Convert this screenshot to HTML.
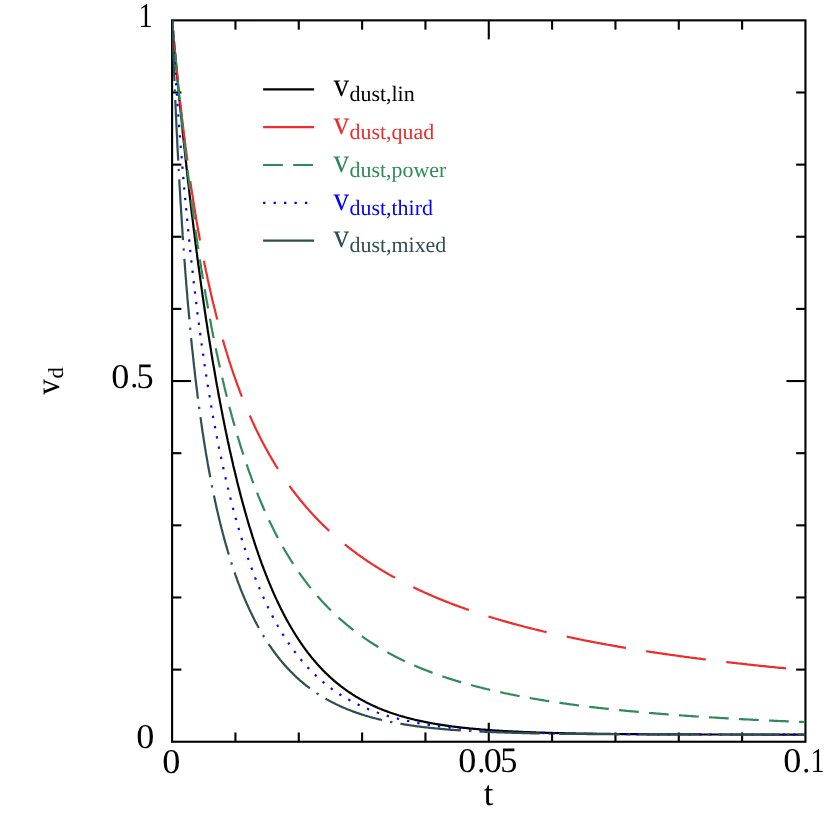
<!DOCTYPE html>
<html><head><meta charset="utf-8"><title>v_d vs t</title>
<style>
html,body{margin:0;padding:0;background:#fff;}
body{width:830px;height:830px;overflow:hidden;font-family:"Liberation Serif",serif;}
svg{display:block;will-change:transform;opacity:0.999;}
text{text-rendering:geometricPrecision;}
</style></head><body>
<svg width="830" height="830" viewBox="0 0 830 830">
<rect x="0" y="0" width="830" height="830" fill="#ffffff"/>
<g stroke="#000" stroke-width="2.10" fill="none" stroke-linecap="butt">
<rect x="172.10" y="20.35" width="633.35" height="721.40"/>
<line x1="235.44" y1="741.75" x2="235.44" y2="732.45"/>
<line x1="235.44" y1="20.35" x2="235.44" y2="29.65"/>
<line x1="298.77" y1="741.75" x2="298.77" y2="732.45"/>
<line x1="298.77" y1="20.35" x2="298.77" y2="29.65"/>
<line x1="362.11" y1="741.75" x2="362.11" y2="732.45"/>
<line x1="362.11" y1="20.35" x2="362.11" y2="29.65"/>
<line x1="425.44" y1="741.75" x2="425.44" y2="732.45"/>
<line x1="425.44" y1="20.35" x2="425.44" y2="29.65"/>
<line x1="488.77" y1="741.75" x2="488.77" y2="722.75"/>
<line x1="488.77" y1="20.35" x2="488.77" y2="39.35"/>
<line x1="552.11" y1="741.75" x2="552.11" y2="732.45"/>
<line x1="552.11" y1="20.35" x2="552.11" y2="29.65"/>
<line x1="615.45" y1="741.75" x2="615.45" y2="732.45"/>
<line x1="615.45" y1="20.35" x2="615.45" y2="29.65"/>
<line x1="678.78" y1="741.75" x2="678.78" y2="732.45"/>
<line x1="678.78" y1="20.35" x2="678.78" y2="29.65"/>
<line x1="742.12" y1="741.75" x2="742.12" y2="732.45"/>
<line x1="742.12" y1="20.35" x2="742.12" y2="29.65"/>
<line x1="172.10" y1="669.61" x2="181.40" y2="669.61"/>
<line x1="805.45" y1="669.61" x2="796.15" y2="669.61"/>
<line x1="172.10" y1="597.47" x2="181.40" y2="597.47"/>
<line x1="805.45" y1="597.47" x2="796.15" y2="597.47"/>
<line x1="172.10" y1="525.33" x2="181.40" y2="525.33"/>
<line x1="805.45" y1="525.33" x2="796.15" y2="525.33"/>
<line x1="172.10" y1="453.19" x2="181.40" y2="453.19"/>
<line x1="805.45" y1="453.19" x2="796.15" y2="453.19"/>
<line x1="172.10" y1="381.05" x2="191.10" y2="381.05"/>
<line x1="805.45" y1="381.05" x2="786.45" y2="381.05"/>
<line x1="172.10" y1="308.91" x2="181.40" y2="308.91"/>
<line x1="805.45" y1="308.91" x2="796.15" y2="308.91"/>
<line x1="172.10" y1="236.77" x2="181.40" y2="236.77"/>
<line x1="805.45" y1="236.77" x2="796.15" y2="236.77"/>
<line x1="172.10" y1="164.63" x2="181.40" y2="164.63"/>
<line x1="805.45" y1="164.63" x2="796.15" y2="164.63"/>
<line x1="172.10" y1="92.49" x2="181.40" y2="92.49"/>
<line x1="805.45" y1="92.49" x2="796.15" y2="92.49"/>
</g>
<clipPath id="vp"><rect x="172.10" y="20.35" width="633.35" height="721.40"/></clipPath>
<g fill="none" stroke-width="2.20" stroke-linejoin="round" clip-path="url(#vp)">
<polyline stroke="#000000" points="172.1,20.4 172.1,20.5 172.1,20.8 172.2,21.1 172.2,21.6 172.3,22.1 172.3,22.7 172.4,23.4 172.4,24.1 172.5,24.9 172.6,25.7 172.7,26.6 172.7,27.5 172.8,28.5 172.9,29.5 173.0,30.6 173.1,31.7 173.2,32.8 173.3,34.0 173.4,35.2 173.5,36.5 173.7,37.8 173.8,39.1 173.9,40.5 174.0,41.9 174.1,43.3 174.3,44.8 174.4,46.3 174.6,47.8 174.7,49.3 174.8,50.9 175.0,52.5 175.1,54.2 175.3,55.8 175.5,57.5 175.6,59.2 175.8,61.0 175.9,62.7 176.1,64.5 176.3,66.3 176.4,68.2 176.6,70.0 176.8,71.9 177.0,73.8 177.2,75.7 177.3,77.7 177.5,79.7 177.7,81.6 177.9,83.6 178.1,85.7 178.3,87.7 178.5,89.8 178.7,91.8 178.9,93.9 179.1,96.1 179.3,98.2 179.5,100.3 179.8,102.5 180.0,104.7 180.2,106.9 180.4,109.1 180.6,111.3 180.9,113.5 181.1,115.8 181.3,118.0 181.6,120.3 181.8,122.6 182.0,124.9 182.3,127.2 182.5,129.5 182.7,131.8 183.0,134.2 183.2,136.5 183.5,138.9 183.7,141.3 184.0,143.7 184.2,146.0 184.5,148.5 184.8,150.9 185.0,153.3 185.3,155.7 185.5,158.2 185.8,160.6 186.1,163.0 186.3,165.5 186.6,168.0 186.9,170.4 187.2,172.9 187.4,175.4 187.7,177.9 188.0,180.4 188.3,182.9 188.6,185.4 188.9,187.9 189.2,190.4 189.4,193.0 189.7,195.5 190.0,198.0 190.3,200.5 190.6,203.1 190.9,205.6 191.2,208.2 191.5,210.7 191.8,213.3 192.1,215.8 192.5,218.4 192.8,220.9 193.1,223.5 193.4,226.0 193.7,228.6 194.0,231.2 194.4,233.7 194.7,236.3 195.0,238.8 195.3,241.4 195.6,244.0 196.0,246.5 196.3,249.1 196.6,251.7 197.0,254.2 197.3,256.8 197.6,259.3 198.0,261.9 198.3,264.5 198.7,267.0 199.0,269.6 199.4,272.1 199.7,274.7 200.1,277.2 200.4,279.8 200.8,282.3 201.1,284.9 201.5,287.4 201.8,289.9 202.2,292.5 202.5,295.0 202.9,297.5 203.3,300.1 203.6,302.6 204.0,305.1 204.4,307.6 204.7,310.1 205.1,312.6 205.5,315.1 205.8,317.6 206.2,320.1 206.6,322.6 207.0,325.1 207.4,327.5 207.7,330.0 208.1,332.5 208.5,334.9 208.9,337.4 209.3,339.9 209.7,342.3 210.1,344.7 210.5,347.2 210.9,349.6 211.2,352.0 211.6,354.4 212.0,356.8 212.4,359.2 212.8,361.6 213.2,364.0 213.7,366.4 214.1,368.8 214.5,371.2 214.9,373.5 215.3,375.9 215.7,378.2 216.1,380.6 216.5,382.9 216.9,385.2 217.4,387.6 217.8,389.9 218.2,392.2 218.6,394.5 219.0,396.8 219.5,399.0 219.9,401.3 220.3,403.6 220.8,405.9 221.2,408.1 221.6,410.3 222.1,412.6 222.5,414.8 222.9,417.0 223.4,419.2 223.8,421.4 224.2,423.6 224.7,425.8 225.1,428.0 225.6,430.2 226.0,432.3 226.5,434.5 226.9,436.6 227.4,438.7 227.8,440.9 228.3,443.0 228.7,445.1 229.2,447.2 229.6,449.3 230.1,451.4 230.6,453.4 231.0,455.5 231.5,457.5 231.9,459.6 232.4,461.6 232.9,463.6 233.3,465.7 233.8,467.7 234.3,469.7 234.8,471.6 235.2,473.6 235.7,475.6 236.2,477.6 236.7,479.5 237.1,481.4 237.6,483.4 238.1,485.3 238.6,487.2 239.1,489.1 239.6,491.0 240.0,492.9 240.5,494.8 241.0,496.6 241.5,498.5 242.0,500.3 242.5,502.2 243.0,504.0 243.5,505.8 244.0,507.6 244.5,509.4 245.0,511.2 245.5,513.0 246.0,514.7 246.5,516.5 247.0,518.3 247.5,520.0 248.0,521.7 248.5,523.4 249.0,525.2 249.5,526.9 250.1,528.6 250.6,530.2 251.1,531.9 251.6,533.6 252.1,535.2 252.6,536.9 253.2,538.5 253.7,540.1 254.2,541.7 254.7,543.3 255.2,544.9 255.8,546.5 256.3,548.1 256.8,549.7 257.4,551.2 257.9,552.8 258.4,554.3 259.0,555.8 259.5,557.4 260.0,558.9 260.6,560.4 261.1,561.9 261.6,563.3 262.2,564.8 262.7,566.3 263.3,567.7 263.8,569.2 264.4,570.6 264.9,572.0 265.5,573.4 266.0,574.9 266.6,576.2 267.1,577.6 267.7,579.0 268.2,580.4 268.8,581.7 269.3,583.1 269.9,584.4 270.5,585.8 271.0,587.1 271.6,588.4 272.1,589.7 272.7,591.0 273.3,592.3 273.8,593.6 274.4,594.9 275.0,596.1 275.5,597.4 276.1,598.6 276.7,599.9 277.3,601.1 277.8,602.3 278.4,603.5 279.0,604.7 279.6,605.9 280.1,607.1 280.7,608.3 281.3,609.4 281.9,610.6 282.5,611.7 283.1,612.9 283.6,614.0 284.2,615.1 284.8,616.3 285.4,617.4 286.0,618.5 286.6,619.6 287.2,620.6 287.8,621.7 288.4,622.8 289.0,623.8 289.6,624.9 290.2,625.9 290.8,627.0 291.4,628.0 292.0,629.0 292.6,630.0 293.2,631.0 293.8,632.0 294.4,633.0 295.0,634.0 295.6,635.0 296.2,635.9 296.8,636.9 297.5,637.8 298.1,638.8 298.7,639.7 299.3,640.7 299.9,641.6 300.5,642.5 301.2,643.4 301.8,644.3 302.4,645.2 303.0,646.1 303.6,646.9 304.3,647.8 304.9,648.7 305.5,649.5 306.1,650.4 306.8,651.2 307.4,652.1 308.0,652.9 308.7,653.7 309.3,654.5 309.9,655.3 310.6,656.1 311.2,656.9 311.9,657.7 312.5,658.5 313.1,659.3 313.8,660.0 314.4,660.8 315.1,661.5 315.7,662.3 316.4,663.0 317.0,663.8 317.6,664.5 318.3,665.2 318.9,665.9 319.6,666.6 320.3,667.3 320.9,668.0 321.6,668.7 322.2,669.4 322.9,670.1 323.5,670.8 324.2,671.4 324.8,672.1 325.5,672.8 326.2,673.4 326.8,674.0 327.5,674.7 328.2,675.3 328.8,675.9 329.5,676.6 330.2,677.2 330.8,677.8 331.5,678.4 332.2,679.0 332.9,679.6 333.5,680.2 334.2,680.8 334.9,681.3 335.6,681.9 336.2,682.5 336.9,683.0 337.6,683.6 338.3,684.1 339.0,684.7 339.6,685.2 340.3,685.8 341.0,686.3 341.7,686.8 342.4,687.3 343.1,687.9 343.8,688.4 344.5,688.9 345.1,689.4 345.8,689.9 346.5,690.4 347.2,690.9 347.9,691.3 348.6,691.8 349.3,692.3 350.0,692.8 350.7,693.2 351.4,693.7 352.1,694.1 352.8,694.6 353.5,695.0 354.2,695.5 354.9,695.9 355.6,696.4 356.3,696.8 357.1,697.2 357.8,697.6 358.5,698.0 359.2,698.5 359.9,698.9 360.6,699.3 361.3,699.7 362.1,700.1 362.8,700.5 363.5,700.8 364.2,701.2 364.9,701.6 365.6,702.0 366.4,702.4 367.1,702.7 367.8,703.1 368.5,703.5 369.3,703.8 370.0,704.2 370.7,704.5 371.5,704.9 372.2,705.2 372.9,705.6 373.6,705.9 374.4,706.2 375.1,706.6 375.9,706.9 376.6,707.2 377.3,707.5 378.1,707.9 378.8,708.2 379.5,708.5 380.3,708.8 381.0,709.1 381.8,709.4 382.5,709.7 383.3,710.0 384.0,710.3 384.8,710.6 385.5,710.8 386.3,711.1 387.0,711.4 387.8,711.7 388.5,712.0 389.3,712.2 390.0,712.5 390.8,712.8 391.5,713.0 392.3,713.3 393.0,713.5 393.8,713.8 394.6,714.0 395.3,714.3 396.1,714.5 396.8,714.8 397.6,715.0 398.4,715.3 399.1,715.5 399.9,715.7 400.7,716.0 401.4,716.2 402.2,716.4 403.0,716.6 403.8,716.8 404.5,717.1 405.3,717.3 406.1,717.5 406.9,717.7 407.6,717.9 408.4,718.1 409.2,718.3 410.0,718.5 410.7,718.7 411.5,718.9 412.3,719.1 413.1,719.3 413.9,719.5 414.7,719.7 415.4,719.9 416.2,720.1 417.0,720.2 417.8,720.4 418.6,720.6 419.4,720.8 420.2,720.9 421.0,721.1 421.8,721.3 422.6,721.4 423.4,721.6 424.2,721.8 425.0,721.9 425.8,722.1 426.6,722.3 427.4,722.4 428.2,722.6 429.0,722.7 429.8,722.9 430.6,723.0 431.4,723.2 432.2,723.3 433.0,723.5 433.8,723.6 434.6,723.7 435.4,723.9 436.2,724.0 437.0,724.2 437.8,724.3 438.7,724.4 439.5,724.6 440.3,724.7 441.1,724.8 441.9,724.9 442.7,725.1 443.6,725.2 444.4,725.3 445.2,725.4 446.0,725.6 446.8,725.7 447.7,725.8 448.5,725.9 449.3,726.0 450.1,726.1 451.0,726.2 451.8,726.4 452.6,726.5 453.5,726.6 454.3,726.7 455.1,726.8 456.0,726.9 456.8,727.0 457.6,727.1 458.5,727.2 459.3,727.3 460.1,727.4 461.0,727.5 461.8,727.6 462.6,727.7 463.5,727.8 464.3,727.8 465.2,727.9 466.0,728.0 466.9,728.1 467.7,728.2 468.6,728.3 469.4,728.4 470.2,728.5 471.1,728.5 471.9,728.6 472.8,728.7 473.7,728.8 474.5,728.9 475.4,728.9 476.2,729.0 477.1,729.1 477.9,729.2 478.8,729.2 479.6,729.3 480.5,729.4 481.4,729.5 482.2,729.5 483.1,729.6 483.9,729.7 484.8,729.7 485.7,729.8 486.5,729.9 487.4,729.9 488.3,730.0 489.1,730.1 490.0,730.1 490.9,730.2 491.8,730.2 492.6,730.3 493.5,730.4 494.4,730.4 495.2,730.5 496.1,730.5 497.0,730.6 497.9,730.6 498.8,730.7 499.6,730.8 500.5,730.8 501.4,730.9 502.3,730.9 503.2,731.0 504.0,731.0 504.9,731.1 505.8,731.1 506.7,731.2 507.6,731.2 508.5,731.3 509.4,731.3 510.2,731.4 511.1,731.4 512.0,731.4 512.9,731.5 513.8,731.5 514.7,731.6 515.6,731.6 516.5,731.7 517.4,731.7 518.3,731.7 519.2,731.8 520.1,731.8 521.0,731.9 521.9,731.9 522.8,731.9 523.7,732.0 524.6,732.0 525.5,732.1 526.4,732.1 527.3,732.1 528.2,732.2 529.1,732.2 530.0,732.2 530.9,732.3 531.9,732.3 532.8,732.3 533.7,732.4 534.6,732.4 535.5,732.4 536.4,732.5 537.3,732.5 538.2,732.5 539.2,732.6 540.1,732.6 541.0,732.6 541.9,732.6 542.8,732.7 543.8,732.7 544.7,732.7 545.6,732.8 546.5,732.8 547.5,732.8 548.4,732.8 549.3,732.9 550.2,732.9 551.2,732.9 552.1,732.9 553.0,733.0 554.0,733.0 554.9,733.0 555.8,733.0 556.8,733.1 557.7,733.1 558.6,733.1 559.6,733.1 560.5,733.1 561.4,733.2 562.4,733.2 563.3,733.2 564.3,733.2 565.2,733.3 566.1,733.3 567.1,733.3 568.0,733.3 569.0,733.3 569.9,733.4 570.9,733.4 571.8,733.4 572.8,733.4 573.7,733.4 574.7,733.4 575.6,733.5 576.6,733.5 577.5,733.5 578.5,733.5 579.4,733.5 580.4,733.5 581.3,733.6 582.3,733.6 583.2,733.6 584.2,733.6 585.2,733.6 586.1,733.6 587.1,733.7 588.0,733.7 589.0,733.7 590.0,733.7 590.9,733.7 591.9,733.7 592.9,733.7 593.8,733.8 594.8,733.8 595.8,733.8 596.7,733.8 597.7,733.8 598.7,733.8 599.6,733.8 600.6,733.8 601.6,733.8 602.6,733.9 603.5,733.9 604.5,733.9 605.5,733.9 606.5,733.9 607.4,733.9 608.4,733.9 609.4,733.9 610.4,733.9 611.4,734.0 612.3,734.0 613.3,734.0 614.3,734.0 615.3,734.0 616.3,734.0 617.3,734.0 618.2,734.0 619.2,734.0 620.2,734.0 621.2,734.1 622.2,734.1 623.2,734.1 624.2,734.1 625.2,734.1 626.2,734.1 627.2,734.1 628.2,734.1 629.2,734.1 630.2,734.1 631.2,734.1 632.1,734.1 633.1,734.1 634.1,734.2 635.1,734.2 636.2,734.2 637.2,734.2 638.2,734.2 639.2,734.2 640.2,734.2 641.2,734.2 642.2,734.2 643.2,734.2 644.2,734.2 645.2,734.2 646.2,734.2 647.2,734.2 648.2,734.2 649.2,734.3 650.3,734.3 651.3,734.3 652.3,734.3 653.3,734.3 654.3,734.3 655.3,734.3 656.4,734.3 657.4,734.3 658.4,734.3 659.4,734.3 660.4,734.3 661.5,734.3 662.5,734.3 663.5,734.3 664.5,734.3 665.5,734.3 666.6,734.3 667.6,734.3 668.6,734.3 669.7,734.4 670.7,734.4 671.7,734.4 672.7,734.4 673.8,734.4 674.8,734.4 675.8,734.4 676.9,734.4 677.9,734.4 678.9,734.4 680.0,734.4 681.0,734.4 682.1,734.4 683.1,734.4 684.1,734.4 685.2,734.4 686.2,734.4 687.3,734.4 688.3,734.4 689.3,734.4 690.4,734.4 691.4,734.4 692.5,734.4 693.5,734.4 694.6,734.4 695.6,734.4 696.7,734.4 697.7,734.4 698.8,734.4 699.8,734.4 700.9,734.5 701.9,734.5 703.0,734.5 704.0,734.5 705.1,734.5 706.1,734.5 707.2,734.5 708.3,734.5 709.3,734.5 710.4,734.5 711.4,734.5 712.5,734.5 713.6,734.5 714.6,734.5 715.7,734.5 716.7,734.5 717.8,734.5 718.9,734.5 719.9,734.5 721.0,734.5 722.1,734.5 723.1,734.5 724.2,734.5 725.3,734.5 726.3,734.5 727.4,734.5 728.5,734.5 729.6,734.5 730.6,734.5 731.7,734.5 732.8,734.5 733.9,734.5 734.9,734.5 736.0,734.5 737.1,734.5 738.2,734.5 739.3,734.5 740.3,734.5 741.4,734.5 742.5,734.5 743.6,734.5 744.7,734.5 745.8,734.5 746.8,734.5 747.9,734.5 749.0,734.5 750.1,734.5 751.2,734.5 752.3,734.5 753.4,734.5 754.5,734.5 755.5,734.5 756.6,734.5 757.7,734.5 758.8,734.5 759.9,734.5 761.0,734.5 762.1,734.5 763.2,734.5 764.3,734.6 765.4,734.6 766.5,734.6 767.6,734.6 768.7,734.6 769.8,734.6 770.9,734.6 772.0,734.6 773.1,734.6 774.2,734.6 775.3,734.6 776.4,734.6 777.5,734.6 778.6,734.6 779.8,734.6 780.9,734.6 782.0,734.6 783.1,734.6 784.2,734.6 785.3,734.6 786.4,734.6 787.5,734.6 788.6,734.6 789.8,734.6 790.9,734.6 792.0,734.6 793.1,734.6 794.2,734.6 795.3,734.6 796.5,734.6 797.6,734.6 798.7,734.6 799.8,734.6 801.0,734.6 802.1,734.6 803.2,734.6 804.3,734.6 805.5,734.6"/>
<polyline stroke="#ee2c2c" stroke-dasharray="60.25 20.65" points="172.1,20.4 172.1,20.5 172.1,20.8 172.2,21.1 172.2,21.6 172.3,22.1 172.3,22.7 172.4,23.4 172.4,24.1 172.5,24.9 172.6,25.7 172.7,26.6 172.7,27.5 172.8,28.5 172.9,29.5 173.0,30.5 173.1,31.6 173.2,32.7 173.3,33.9 173.4,35.1 173.5,36.3 173.7,37.6 173.8,38.9 173.9,40.2 174.0,41.6 174.1,43.0 174.3,44.4 174.4,45.8 174.6,47.3 174.7,48.8 174.8,50.3 175.0,51.8 175.1,53.4 175.3,55.0 175.5,56.6 175.6,58.2 175.8,59.9 175.9,61.5 176.1,63.2 176.3,64.9 176.4,66.6 176.6,68.4 176.8,70.1 177.0,71.9 177.2,73.7 177.3,75.5 177.5,77.3 177.7,79.2 177.9,81.0 178.1,82.9 178.3,84.7 178.5,86.6 178.7,88.5 178.9,90.4 179.1,92.3 179.3,94.2 179.5,96.2 179.8,98.1 180.0,100.1 180.2,102.0 180.4,104.0 180.6,106.0 180.9,107.9 181.1,109.9 181.3,111.9 181.6,113.9 181.8,115.9 182.0,117.9 182.3,119.9 182.5,122.0 182.7,124.0 183.0,126.0 183.2,128.0 183.5,130.1 183.7,132.1 184.0,134.1 184.2,136.2 184.5,138.2 184.8,140.3 185.0,142.3 185.3,144.4 185.5,146.4 185.8,148.5 186.1,150.5 186.3,152.6 186.6,154.6 186.9,156.7 187.2,158.7 187.4,160.8 187.7,162.8 188.0,164.9 188.3,166.9 188.6,169.0 188.9,171.0 189.2,173.1 189.4,175.1 189.7,177.2 190.0,179.2 190.3,181.2 190.6,183.3 190.9,185.3 191.2,187.3 191.5,189.4 191.8,191.4 192.1,193.4 192.5,195.4 192.8,197.4 193.1,199.4 193.4,201.4 193.7,203.4 194.0,205.4 194.4,207.4 194.7,209.4 195.0,211.4 195.3,213.4 195.6,215.3 196.0,217.3 196.3,219.3 196.6,221.2 197.0,223.2 197.3,225.2 197.6,227.1 198.0,229.0 198.3,231.0 198.7,232.9 199.0,234.8 199.4,236.7 199.7,238.7 200.1,240.6 200.4,242.5 200.8,244.4 201.1,246.2 201.5,248.1 201.8,250.0 202.2,251.9 202.5,253.7 202.9,255.6 203.3,257.5 203.6,259.3 204.0,261.1 204.4,263.0 204.7,264.8 205.1,266.6 205.5,268.4 205.8,270.2 206.2,272.1 206.6,273.8 207.0,275.6 207.4,277.4 207.7,279.2 208.1,281.0 208.5,282.7 208.9,284.5 209.3,286.2 209.7,288.0 210.1,289.7 210.5,291.4 210.9,293.2 211.2,294.9 211.6,296.6 212.0,298.3 212.4,300.0 212.8,301.7 213.2,303.3 213.7,305.0 214.1,306.7 214.5,308.3 214.9,310.0 215.3,311.6 215.7,313.3 216.1,314.9 216.5,316.5 216.9,318.2 217.4,319.8 217.8,321.4 218.2,323.0 218.6,324.6 219.0,326.1 219.5,327.7 219.9,329.3 220.3,330.9 220.8,332.4 221.2,334.0 221.6,335.5 222.1,337.0 222.5,338.6 222.9,340.1 223.4,341.6 223.8,343.1 224.2,344.6 224.7,346.1 225.1,347.6 225.6,349.1 226.0,350.6 226.5,352.0 226.9,353.5 227.4,355.0 227.8,356.4 228.3,357.8 228.7,359.3 229.2,360.7 229.6,362.1 230.1,363.5 230.6,365.0 231.0,366.4 231.5,367.8 231.9,369.1 232.4,370.5 232.9,371.9 233.3,373.3 233.8,374.6 234.3,376.0 234.8,377.3 235.2,378.7 235.7,380.0 236.2,381.4 236.7,382.7 237.1,384.0 237.6,385.3 238.1,386.6 238.6,387.9 239.1,389.2 239.6,390.5 240.0,391.8 240.5,393.1 241.0,394.3 241.5,395.6 242.0,396.9 242.5,398.1 243.0,399.4 243.5,400.6 244.0,401.8 244.5,403.1 245.0,404.3 245.5,405.5 246.0,406.7 246.5,407.9 247.0,409.1 247.5,410.3 248.0,411.5 248.5,412.7 249.0,413.8 249.5,415.0 250.1,416.2 250.6,417.3 251.1,418.5 251.6,419.6 252.1,420.8 252.6,421.9 253.2,423.1 253.7,424.2 254.2,425.3 254.7,426.4 255.2,427.5 255.8,428.6 256.3,429.7 256.8,430.8 257.4,431.9 257.9,433.0 258.4,434.1 259.0,435.1 259.5,436.2 260.0,437.3 260.6,438.3 261.1,439.4 261.6,440.4 262.2,441.5 262.7,442.5 263.3,443.5 263.8,444.6 264.4,445.6 264.9,446.6 265.5,447.6 266.0,448.6 266.6,449.6 267.1,450.6 267.7,451.6 268.2,452.6 268.8,453.6 269.3,454.6 269.9,455.5 270.5,456.5 271.0,457.5 271.6,458.4 272.1,459.4 272.7,460.3 273.3,461.3 273.8,462.2 274.4,463.2 275.0,464.1 275.5,465.0 276.1,466.0 276.7,466.9 277.3,467.8 277.8,468.7 278.4,469.6 279.0,470.5 279.6,471.4 280.1,472.3 280.7,473.2 281.3,474.1 281.9,475.0 282.5,475.8 283.1,476.7 283.6,477.6 284.2,478.4 284.8,479.3 285.4,480.2 286.0,481.0 286.6,481.8 287.2,482.7 287.8,483.5 288.4,484.4 289.0,485.2 289.6,486.0 290.2,486.9 290.8,487.7 291.4,488.5 292.0,489.3 292.6,490.1 293.2,490.9 293.8,491.7 294.4,492.5 295.0,493.3 295.6,494.1 296.2,494.9 296.8,495.7 297.5,496.4 298.1,497.2 298.7,498.0 299.3,498.8 299.9,499.5 300.5,500.3 301.2,501.0 301.8,501.8 302.4,502.5 303.0,503.3 303.6,504.0 304.3,504.8 304.9,505.5 305.5,506.2 306.1,507.0 306.8,507.7 307.4,508.4 308.0,509.1 308.7,509.9 309.3,510.6 309.9,511.3 310.6,512.0 311.2,512.7 311.9,513.4 312.5,514.1 313.1,514.8 313.8,515.5 314.4,516.1 315.1,516.8 315.7,517.5 316.4,518.2 317.0,518.9 317.6,519.5 318.3,520.2 318.9,520.9 319.6,521.5 320.3,522.2 320.9,522.8 321.6,523.5 322.2,524.2 322.9,524.8 323.5,525.4 324.2,526.1 324.8,526.7 325.5,527.4 326.2,528.0 326.8,528.6 327.5,529.3 328.2,529.9 328.8,530.5 329.5,531.1 330.2,531.7 330.8,532.3 331.5,533.0 332.2,533.6 332.9,534.2 333.5,534.8 334.2,535.4 334.9,536.0 335.6,536.6 336.2,537.2 336.9,537.7 337.6,538.3 338.3,538.9 339.0,539.5 339.6,540.1 340.3,540.7 341.0,541.2 341.7,541.8 342.4,542.4 343.1,542.9 343.8,543.5 344.5,544.1 345.1,544.6 345.8,545.2 346.5,545.7 347.2,546.3 347.9,546.8 348.6,547.4 349.3,547.9 350.0,548.5 350.7,549.0 351.4,549.5 352.1,550.1 352.8,550.6 353.5,551.1 354.2,551.7 354.9,552.2 355.6,552.7 356.3,553.2 357.1,553.8 357.8,554.3 358.5,554.8 359.2,555.3 359.9,555.8 360.6,556.3 361.3,556.8 362.1,557.3 362.8,557.8 363.5,558.3 364.2,558.8 364.9,559.3 365.6,559.8 366.4,560.3 367.1,560.8 367.8,561.3 368.5,561.8 369.3,562.3 370.0,562.7 370.7,563.2 371.5,563.7 372.2,564.2 372.9,564.6 373.6,565.1 374.4,565.6 375.1,566.1 375.9,566.5 376.6,567.0 377.3,567.4 378.1,567.9 378.8,568.4 379.5,568.8 380.3,569.3 381.0,569.7 381.8,570.2 382.5,570.6 383.3,571.1 384.0,571.5 384.8,572.0 385.5,572.4 386.3,572.8 387.0,573.3 387.8,573.7 388.5,574.1 389.3,574.6 390.0,575.0 390.8,575.4 391.5,575.9 392.3,576.3 393.0,576.7 393.8,577.1 394.6,577.5 395.3,578.0 396.1,578.4 396.8,578.8 397.6,579.2 398.4,579.6 399.1,580.0 399.9,580.4 400.7,580.8 401.4,581.2 402.2,581.6 403.0,582.0 403.8,582.4 404.5,582.8 405.3,583.2 406.1,583.6 406.9,584.0 407.6,584.4 408.4,584.8 409.2,585.2 410.0,585.6 410.7,586.0 411.5,586.4 412.3,586.7 413.1,587.1 413.9,587.5 414.7,587.9 415.4,588.3 416.2,588.6 417.0,589.0 417.8,589.4 418.6,589.8 419.4,590.1 420.2,590.5 421.0,590.9 421.8,591.2 422.6,591.6 423.4,592.0 424.2,592.3 425.0,592.7 425.8,593.0 426.6,593.4 427.4,593.7 428.2,594.1 429.0,594.4 429.8,594.8 430.6,595.1 431.4,595.5 432.2,595.8 433.0,596.2 433.8,596.5 434.6,596.9 435.4,597.2 436.2,597.6 437.0,597.9 437.8,598.2 438.7,598.6 439.5,598.9 440.3,599.2 441.1,599.6 441.9,599.9 442.7,600.2 443.6,600.6 444.4,600.9 445.2,601.2 446.0,601.6 446.8,601.9 447.7,602.2 448.5,602.5 449.3,602.8 450.1,603.2 451.0,603.5 451.8,603.8 452.6,604.1 453.5,604.4 454.3,604.7 455.1,605.1 456.0,605.4 456.8,605.7 457.6,606.0 458.5,606.3 459.3,606.6 460.1,606.9 461.0,607.2 461.8,607.5 462.6,607.8 463.5,608.1 464.3,608.4 465.2,608.7 466.0,609.0 466.9,609.3 467.7,609.6 468.6,609.9 469.4,610.2 470.2,610.5 471.1,610.8 471.9,611.1 472.8,611.4 473.7,611.6 474.5,611.9 475.4,612.2 476.2,612.5 477.1,612.8 477.9,613.1 478.8,613.4 479.6,613.6 480.5,613.9 481.4,614.2 482.2,614.5 483.1,614.8 483.9,615.0 484.8,615.3 485.7,615.6 486.5,615.8 487.4,616.1 488.3,616.4 489.1,616.7 490.0,616.9 490.9,617.2 491.8,617.5 492.6,617.7 493.5,618.0 494.4,618.3 495.2,618.5 496.1,618.8 497.0,619.1 497.9,619.3 498.8,619.6 499.6,619.8 500.5,620.1 501.4,620.3 502.3,620.6 503.2,620.9 504.0,621.1 504.9,621.4 505.8,621.6 506.7,621.9 507.6,622.1 508.5,622.4 509.4,622.6 510.2,622.9 511.1,623.1 512.0,623.4 512.9,623.6 513.8,623.9 514.7,624.1 515.6,624.3 516.5,624.6 517.4,624.8 518.3,625.1 519.2,625.3 520.1,625.5 521.0,625.8 521.9,626.0 522.8,626.3 523.7,626.5 524.6,626.7 525.5,627.0 526.4,627.2 527.3,627.4 528.2,627.7 529.1,627.9 530.0,628.1 530.9,628.4 531.9,628.6 532.8,628.8 533.7,629.0 534.6,629.3 535.5,629.5 536.4,629.7 537.3,629.9 538.2,630.2 539.2,630.4 540.1,630.6 541.0,630.8 541.9,631.1 542.8,631.3 543.8,631.5 544.7,631.7 545.6,631.9 546.5,632.1 547.5,632.4 548.4,632.6 549.3,632.8 550.2,633.0 551.2,633.2 552.1,633.4 553.0,633.6 554.0,633.9 554.9,634.1 555.8,634.3 556.8,634.5 557.7,634.7 558.6,634.9 559.6,635.1 560.5,635.3 561.4,635.5 562.4,635.7 563.3,635.9 564.3,636.1 565.2,636.3 566.1,636.5 567.1,636.7 568.0,636.9 569.0,637.1 569.9,637.3 570.9,637.5 571.8,637.7 572.8,637.9 573.7,638.1 574.7,638.3 575.6,638.5 576.6,638.7 577.5,638.9 578.5,639.1 579.4,639.3 580.4,639.5 581.3,639.7 582.3,639.9 583.2,640.1 584.2,640.3 585.2,640.5 586.1,640.7 587.1,640.8 588.0,641.0 589.0,641.2 590.0,641.4 590.9,641.6 591.9,641.8 592.9,642.0 593.8,642.1 594.8,642.3 595.8,642.5 596.7,642.7 597.7,642.9 598.7,643.1 599.6,643.2 600.6,643.4 601.6,643.6 602.6,643.8 603.5,644.0 604.5,644.1 605.5,644.3 606.5,644.5 607.4,644.7 608.4,644.9 609.4,645.0 610.4,645.2 611.4,645.4 612.3,645.6 613.3,645.7 614.3,645.9 615.3,646.1 616.3,646.2 617.3,646.4 618.2,646.6 619.2,646.8 620.2,646.9 621.2,647.1 622.2,647.3 623.2,647.4 624.2,647.6 625.2,647.8 626.2,647.9 627.2,648.1 628.2,648.3 629.2,648.4 630.2,648.6 631.2,648.8 632.1,648.9 633.1,649.1 634.1,649.3 635.1,649.4 636.2,649.6 637.2,649.7 638.2,649.9 639.2,650.1 640.2,650.2 641.2,650.4 642.2,650.5 643.2,650.7 644.2,650.9 645.2,651.0 646.2,651.2 647.2,651.3 648.2,651.5 649.2,651.6 650.3,651.8 651.3,652.0 652.3,652.1 653.3,652.3 654.3,652.4 655.3,652.6 656.4,652.7 657.4,652.9 658.4,653.0 659.4,653.2 660.4,653.3 661.5,653.5 662.5,653.6 663.5,653.8 664.5,653.9 665.5,654.1 666.6,654.2 667.6,654.4 668.6,654.5 669.7,654.7 670.7,654.8 671.7,655.0 672.7,655.1 673.8,655.2 674.8,655.4 675.8,655.5 676.9,655.7 677.9,655.8 678.9,656.0 680.0,656.1 681.0,656.3 682.1,656.4 683.1,656.5 684.1,656.7 685.2,656.8 686.2,657.0 687.3,657.1 688.3,657.2 689.3,657.4 690.4,657.5 691.4,657.7 692.5,657.8 693.5,657.9 694.6,658.1 695.6,658.2 696.7,658.3 697.7,658.5 698.8,658.6 699.8,658.7 700.9,658.9 701.9,659.0 703.0,659.2 704.0,659.3 705.1,659.4 706.1,659.6 707.2,659.7 708.3,659.8 709.3,659.9 710.4,660.1 711.4,660.2 712.5,660.3 713.6,660.5 714.6,660.6 715.7,660.7 716.7,660.9 717.8,661.0 718.9,661.1 719.9,661.2 721.0,661.4 722.1,661.5 723.1,661.6 724.2,661.8 725.3,661.9 726.3,662.0 727.4,662.1 728.5,662.3 729.6,662.4 730.6,662.5 731.7,662.6 732.8,662.8 733.9,662.9 734.9,663.0 736.0,663.1 737.1,663.3 738.2,663.4 739.3,663.5 740.3,663.6 741.4,663.7 742.5,663.9 743.6,664.0 744.7,664.1 745.8,664.2 746.8,664.3 747.9,664.5 749.0,664.6 750.1,664.7 751.2,664.8 752.3,664.9 753.4,665.1 754.5,665.2 755.5,665.3 756.6,665.4 757.7,665.5 758.8,665.6 759.9,665.8 761.0,665.9 762.1,666.0 763.2,666.1 764.3,666.2 765.4,666.3 766.5,666.4 767.6,666.6 768.7,666.7 769.8,666.8 770.9,666.9 772.0,667.0 773.1,667.1 774.2,667.2 775.3,667.3 776.4,667.5 777.5,667.6 778.6,667.7 779.8,667.8 780.9,667.9 782.0,668.0 783.1,668.1 784.2,668.2 785.3,668.3 786.4,668.5 787.5,668.6 788.6,668.7 789.8,668.8 790.9,668.9 792.0,669.0 793.1,669.1 794.2,669.2 795.3,669.3 796.5,669.4 797.6,669.5 798.7,669.6 799.8,669.7 801.0,669.8 802.1,669.9 803.2,670.1 804.3,670.2 805.5,670.3"/>
<polyline stroke="#2e8b57" stroke-dasharray="19.75 10.34" points="172.1,20.4 172.1,20.5 172.1,20.8 172.2,21.1 172.2,21.6 172.3,22.1 172.3,22.7 172.4,23.4 172.4,24.1 172.5,24.9 172.6,25.7 172.7,26.6 172.7,27.5 172.8,28.5 172.9,29.5 173.0,30.6 173.1,31.7 173.2,32.8 173.3,34.0 173.4,35.2 173.5,36.4 173.7,37.7 173.8,39.0 173.9,40.4 174.0,41.8 174.1,43.2 174.3,44.6 174.4,46.1 174.6,47.6 174.7,49.1 174.8,50.7 175.0,52.2 175.1,53.9 175.3,55.5 175.5,57.1 175.6,58.8 175.8,60.5 175.9,62.2 176.1,64.0 176.3,65.8 176.4,67.6 176.6,69.4 176.8,71.2 177.0,73.0 177.2,74.9 177.3,76.8 177.5,78.7 177.7,80.6 177.9,82.6 178.1,84.5 178.3,86.5 178.5,88.5 178.7,90.5 178.9,92.5 179.1,94.5 179.3,96.5 179.5,98.6 179.8,100.7 180.0,102.7 180.2,104.8 180.4,106.9 180.6,109.0 180.9,111.2 181.1,113.3 181.3,115.4 181.6,117.6 181.8,119.8 182.0,121.9 182.3,124.1 182.5,126.3 182.7,128.5 183.0,130.7 183.2,132.9 183.5,135.1 183.7,137.4 184.0,139.6 184.2,141.8 184.5,144.1 184.8,146.3 185.0,148.6 185.3,150.9 185.5,153.1 185.8,155.4 186.1,157.7 186.3,159.9 186.6,162.2 186.9,164.5 187.2,166.8 187.4,169.1 187.7,171.4 188.0,173.7 188.3,176.0 188.6,178.3 188.9,180.6 189.2,182.9 189.4,185.2 189.7,187.5 190.0,189.8 190.3,192.1 190.6,194.4 190.9,196.7 191.2,199.0 191.5,201.3 191.8,203.6 192.1,205.9 192.5,208.2 192.8,210.5 193.1,212.8 193.4,215.2 193.7,217.5 194.0,219.8 194.4,222.0 194.7,224.3 195.0,226.6 195.3,228.9 195.6,231.2 196.0,233.5 196.3,235.8 196.6,238.1 197.0,240.3 197.3,242.6 197.6,244.9 198.0,247.1 198.3,249.4 198.7,251.7 199.0,253.9 199.4,256.2 199.7,258.4 200.1,260.7 200.4,262.9 200.8,265.1 201.1,267.4 201.5,269.6 201.8,271.8 202.2,274.0 202.5,276.2 202.9,278.4 203.3,280.6 203.6,282.8 204.0,285.0 204.4,287.2 204.7,289.4 205.1,291.6 205.5,293.7 205.8,295.9 206.2,298.1 206.6,300.2 207.0,302.3 207.4,304.5 207.7,306.6 208.1,308.7 208.5,310.9 208.9,313.0 209.3,315.1 209.7,317.2 210.1,319.3 210.5,321.4 210.9,323.4 211.2,325.5 211.6,327.6 212.0,329.6 212.4,331.7 212.8,333.7 213.2,335.8 213.7,337.8 214.1,339.8 214.5,341.8 214.9,343.9 215.3,345.9 215.7,347.9 216.1,349.8 216.5,351.8 216.9,353.8 217.4,355.8 217.8,357.7 218.2,359.7 218.6,361.6 219.0,363.6 219.5,365.5 219.9,367.4 220.3,369.3 220.8,371.2 221.2,373.1 221.6,375.0 222.1,376.9 222.5,378.8 222.9,380.6 223.4,382.5 223.8,384.3 224.2,386.2 224.7,388.0 225.1,389.9 225.6,391.7 226.0,393.5 226.5,395.3 226.9,397.1 227.4,398.9 227.8,400.7 228.3,402.4 228.7,404.2 229.2,406.0 229.6,407.7 230.1,409.5 230.6,411.2 231.0,412.9 231.5,414.6 231.9,416.3 232.4,418.1 232.9,419.7 233.3,421.4 233.8,423.1 234.3,424.8 234.8,426.5 235.2,428.1 235.7,429.8 236.2,431.4 236.7,433.0 237.1,434.7 237.6,436.3 238.1,437.9 238.6,439.5 239.1,441.1 239.6,442.7 240.0,444.2 240.5,445.8 241.0,447.4 241.5,448.9 242.0,450.5 242.5,452.0 243.0,453.6 243.5,455.1 244.0,456.6 244.5,458.1 245.0,459.6 245.5,461.1 246.0,462.6 246.5,464.1 247.0,465.5 247.5,467.0 248.0,468.5 248.5,469.9 249.0,471.4 249.5,472.8 250.1,474.2 250.6,475.6 251.1,477.0 251.6,478.5 252.1,479.9 252.6,481.2 253.2,482.6 253.7,484.0 254.2,485.4 254.7,486.7 255.2,488.1 255.8,489.4 256.3,490.8 256.8,492.1 257.4,493.4 257.9,494.7 258.4,496.1 259.0,497.4 259.5,498.7 260.0,500.0 260.6,501.2 261.1,502.5 261.6,503.8 262.2,505.0 262.7,506.3 263.3,507.6 263.8,508.8 264.4,510.0 264.9,511.3 265.5,512.5 266.0,513.7 266.6,514.9 267.1,516.1 267.7,517.3 268.2,518.5 268.8,519.7 269.3,520.9 269.9,522.0 270.5,523.2 271.0,524.3 271.6,525.5 272.1,526.6 272.7,527.8 273.3,528.9 273.8,530.0 274.4,531.2 275.0,532.3 275.5,533.4 276.1,534.5 276.7,535.6 277.3,536.7 277.8,537.7 278.4,538.8 279.0,539.9 279.6,540.9 280.1,542.0 280.7,543.1 281.3,544.1 281.9,545.1 282.5,546.2 283.1,547.2 283.6,548.2 284.2,549.2 284.8,550.3 285.4,551.3 286.0,552.3 286.6,553.3 287.2,554.2 287.8,555.2 288.4,556.2 289.0,557.2 289.6,558.1 290.2,559.1 290.8,560.1 291.4,561.0 292.0,561.9 292.6,562.9 293.2,563.8 293.8,564.7 294.4,565.7 295.0,566.6 295.6,567.5 296.2,568.4 296.8,569.3 297.5,570.2 298.1,571.1 298.7,572.0 299.3,572.9 299.9,573.7 300.5,574.6 301.2,575.5 301.8,576.3 302.4,577.2 303.0,578.0 303.6,578.9 304.3,579.7 304.9,580.6 305.5,581.4 306.1,582.2 306.8,583.0 307.4,583.9 308.0,584.7 308.7,585.5 309.3,586.3 309.9,587.1 310.6,587.9 311.2,588.7 311.9,589.4 312.5,590.2 313.1,591.0 313.8,591.8 314.4,592.5 315.1,593.3 315.7,594.1 316.4,594.8 317.0,595.6 317.6,596.3 318.3,597.0 318.9,597.8 319.6,598.5 320.3,599.2 320.9,600.0 321.6,600.7 322.2,601.4 322.9,602.1 323.5,602.8 324.2,603.5 324.8,604.2 325.5,604.9 326.2,605.6 326.8,606.3 327.5,607.0 328.2,607.6 328.8,608.3 329.5,609.0 330.2,609.6 330.8,610.3 331.5,611.0 332.2,611.6 332.9,612.3 333.5,612.9 334.2,613.6 334.9,614.2 335.6,614.8 336.2,615.5 336.9,616.1 337.6,616.7 338.3,617.3 339.0,618.0 339.6,618.6 340.3,619.2 341.0,619.8 341.7,620.4 342.4,621.0 343.1,621.6 343.8,622.2 344.5,622.8 345.1,623.3 345.8,623.9 346.5,624.5 347.2,625.1 347.9,625.7 348.6,626.2 349.3,626.8 350.0,627.3 350.7,627.9 351.4,628.5 352.1,629.0 352.8,629.6 353.5,630.1 354.2,630.7 354.9,631.2 355.6,631.7 356.3,632.3 357.1,632.8 357.8,633.3 358.5,633.8 359.2,634.4 359.9,634.9 360.6,635.4 361.3,635.9 362.1,636.4 362.8,636.9 363.5,637.4 364.2,637.9 364.9,638.4 365.6,638.9 366.4,639.4 367.1,639.9 367.8,640.4 368.5,640.9 369.3,641.3 370.0,641.8 370.7,642.3 371.5,642.8 372.2,643.2 372.9,643.7 373.6,644.2 374.4,644.6 375.1,645.1 375.9,645.5 376.6,646.0 377.3,646.5 378.1,646.9 378.8,647.3 379.5,647.8 380.3,648.2 381.0,648.7 381.8,649.1 382.5,649.5 383.3,650.0 384.0,650.4 384.8,650.8 385.5,651.2 386.3,651.7 387.0,652.1 387.8,652.5 388.5,652.9 389.3,653.3 390.0,653.7 390.8,654.1 391.5,654.5 392.3,654.9 393.0,655.3 393.8,655.7 394.6,656.1 395.3,656.5 396.1,656.9 396.8,657.3 397.6,657.7 398.4,658.1 399.1,658.4 399.9,658.8 400.7,659.2 401.4,659.6 402.2,660.0 403.0,660.3 403.8,660.7 404.5,661.1 405.3,661.4 406.1,661.8 406.9,662.1 407.6,662.5 408.4,662.9 409.2,663.2 410.0,663.6 410.7,663.9 411.5,664.3 412.3,664.6 413.1,665.0 413.9,665.3 414.7,665.6 415.4,666.0 416.2,666.3 417.0,666.6 417.8,667.0 418.6,667.3 419.4,667.6 420.2,668.0 421.0,668.3 421.8,668.6 422.6,668.9 423.4,669.3 424.2,669.6 425.0,669.9 425.8,670.2 426.6,670.5 427.4,670.8 428.2,671.1 429.0,671.4 429.8,671.7 430.6,672.0 431.4,672.4 432.2,672.7 433.0,673.0 433.8,673.2 434.6,673.5 435.4,673.8 436.2,674.1 437.0,674.4 437.8,674.7 438.7,675.0 439.5,675.3 440.3,675.6 441.1,675.8 441.9,676.1 442.7,676.4 443.6,676.7 444.4,677.0 445.2,677.2 446.0,677.5 446.8,677.8 447.7,678.1 448.5,678.3 449.3,678.6 450.1,678.9 451.0,679.1 451.8,679.4 452.6,679.6 453.5,679.9 454.3,680.2 455.1,680.4 456.0,680.7 456.8,680.9 457.6,681.2 458.5,681.4 459.3,681.7 460.1,681.9 461.0,682.2 461.8,682.4 462.6,682.7 463.5,682.9 464.3,683.2 465.2,683.4 466.0,683.6 466.9,683.9 467.7,684.1 468.6,684.3 469.4,684.6 470.2,684.8 471.1,685.0 471.9,685.3 472.8,685.5 473.7,685.7 474.5,686.0 475.4,686.2 476.2,686.4 477.1,686.6 477.9,686.9 478.8,687.1 479.6,687.3 480.5,687.5 481.4,687.7 482.2,687.9 483.1,688.2 483.9,688.4 484.8,688.6 485.7,688.8 486.5,689.0 487.4,689.2 488.3,689.4 489.1,689.6 490.0,689.8 490.9,690.0 491.8,690.2 492.6,690.4 493.5,690.6 494.4,690.8 495.2,691.0 496.1,691.2 497.0,691.4 497.9,691.6 498.8,691.8 499.6,692.0 500.5,692.2 501.4,692.4 502.3,692.6 503.2,692.8 504.0,693.0 504.9,693.2 505.8,693.4 506.7,693.5 507.6,693.7 508.5,693.9 509.4,694.1 510.2,694.3 511.1,694.5 512.0,694.6 512.9,694.8 513.8,695.0 514.7,695.2 515.6,695.3 516.5,695.5 517.4,695.7 518.3,695.9 519.2,696.0 520.1,696.2 521.0,696.4 521.9,696.5 522.8,696.7 523.7,696.9 524.6,697.1 525.5,697.2 526.4,697.4 527.3,697.5 528.2,697.7 529.1,697.9 530.0,698.0 530.9,698.2 531.9,698.4 532.8,698.5 533.7,698.7 534.6,698.8 535.5,699.0 536.4,699.1 537.3,699.3 538.2,699.5 539.2,699.6 540.1,699.8 541.0,699.9 541.9,700.1 542.8,700.2 543.8,700.4 544.7,700.5 545.6,700.7 546.5,700.8 547.5,701.0 548.4,701.1 549.3,701.2 550.2,701.4 551.2,701.5 552.1,701.7 553.0,701.8 554.0,702.0 554.9,702.1 555.8,702.2 556.8,702.4 557.7,702.5 558.6,702.7 559.6,702.8 560.5,702.9 561.4,703.1 562.4,703.2 563.3,703.3 564.3,703.5 565.2,703.6 566.1,703.7 567.1,703.9 568.0,704.0 569.0,704.1 569.9,704.3 570.9,704.4 571.8,704.5 572.8,704.6 573.7,704.8 574.7,704.9 575.6,705.0 576.6,705.2 577.5,705.3 578.5,705.4 579.4,705.5 580.4,705.6 581.3,705.8 582.3,705.9 583.2,706.0 584.2,706.1 585.2,706.3 586.1,706.4 587.1,706.5 588.0,706.6 589.0,706.7 590.0,706.8 590.9,707.0 591.9,707.1 592.9,707.2 593.8,707.3 594.8,707.4 595.8,707.5 596.7,707.6 597.7,707.8 598.7,707.9 599.6,708.0 600.6,708.1 601.6,708.2 602.6,708.3 603.5,708.4 604.5,708.5 605.5,708.6 606.5,708.7 607.4,708.8 608.4,708.9 609.4,709.1 610.4,709.2 611.4,709.3 612.3,709.4 613.3,709.5 614.3,709.6 615.3,709.7 616.3,709.8 617.3,709.9 618.2,710.0 619.2,710.1 620.2,710.2 621.2,710.3 622.2,710.4 623.2,710.5 624.2,710.6 625.2,710.7 626.2,710.8 627.2,710.9 628.2,711.0 629.2,711.1 630.2,711.2 631.2,711.3 632.1,711.3 633.1,711.4 634.1,711.5 635.1,711.6 636.2,711.7 637.2,711.8 638.2,711.9 639.2,712.0 640.2,712.1 641.2,712.2 642.2,712.3 643.2,712.4 644.2,712.4 645.2,712.5 646.2,712.6 647.2,712.7 648.2,712.8 649.2,712.9 650.3,713.0 651.3,713.1 652.3,713.1 653.3,713.2 654.3,713.3 655.3,713.4 656.4,713.5 657.4,713.6 658.4,713.6 659.4,713.7 660.4,713.8 661.5,713.9 662.5,714.0 663.5,714.1 664.5,714.1 665.5,714.2 666.6,714.3 667.6,714.4 668.6,714.5 669.7,714.5 670.7,714.6 671.7,714.7 672.7,714.8 673.8,714.9 674.8,714.9 675.8,715.0 676.9,715.1 677.9,715.2 678.9,715.2 680.0,715.3 681.0,715.4 682.1,715.5 683.1,715.5 684.1,715.6 685.2,715.7 686.2,715.8 687.3,715.8 688.3,715.9 689.3,716.0 690.4,716.0 691.4,716.1 692.5,716.2 693.5,716.3 694.6,716.3 695.6,716.4 696.7,716.5 697.7,716.5 698.8,716.6 699.8,716.7 700.9,716.7 701.9,716.8 703.0,716.9 704.0,716.9 705.1,717.0 706.1,717.1 707.2,717.2 708.3,717.2 709.3,717.3 710.4,717.3 711.4,717.4 712.5,717.5 713.6,717.5 714.6,717.6 715.7,717.7 716.7,717.7 717.8,717.8 718.9,717.9 719.9,717.9 721.0,718.0 722.1,718.1 723.1,718.1 724.2,718.2 725.3,718.2 726.3,718.3 727.4,718.4 728.5,718.4 729.6,718.5 730.6,718.5 731.7,718.6 732.8,718.7 733.9,718.7 734.9,718.8 736.0,718.8 737.1,718.9 738.2,719.0 739.3,719.0 740.3,719.1 741.4,719.1 742.5,719.2 743.6,719.3 744.7,719.3 745.8,719.4 746.8,719.4 747.9,719.5 749.0,719.5 750.1,719.6 751.2,719.6 752.3,719.7 753.4,719.8 754.5,719.8 755.5,719.9 756.6,719.9 757.7,720.0 758.8,720.0 759.9,720.1 761.0,720.1 762.1,720.2 763.2,720.2 764.3,720.3 765.4,720.3 766.5,720.4 767.6,720.4 768.7,720.5 769.8,720.6 770.9,720.6 772.0,720.7 773.1,720.7 774.2,720.8 775.3,720.8 776.4,720.9 777.5,720.9 778.6,721.0 779.8,721.0 780.9,721.1 782.0,721.1 783.1,721.2 784.2,721.2 785.3,721.2 786.4,721.3 787.5,721.3 788.6,721.4 789.8,721.4 790.9,721.5 792.0,721.5 793.1,721.6 794.2,721.6 795.3,721.7 796.5,721.7 797.6,721.8 798.7,721.8 799.8,721.9 801.0,721.9 802.1,721.9 803.2,722.0 804.3,722.0 805.5,722.1"/>
<polyline stroke="#0000ff" stroke-dasharray="2.3 8.165" points="172.1,20.4 172.1,20.6 172.1,21.0 172.2,21.5 172.2,22.2 172.3,23.0 172.3,23.9 172.4,24.9 172.4,26.0 172.5,27.1 172.6,28.4 172.7,29.7 172.7,31.0 172.8,32.5 172.9,34.0 173.0,35.5 173.1,37.2 173.2,38.8 173.3,40.6 173.4,42.3 173.5,44.2 173.7,46.0 173.8,48.0 173.9,49.9 174.0,51.9 174.1,54.0 174.3,56.1 174.4,58.2 174.6,60.4 174.7,62.6 174.8,64.8 175.0,67.1 175.1,69.4 175.3,71.7 175.5,74.1 175.6,76.4 175.8,78.9 175.9,81.3 176.1,83.8 176.3,86.2 176.4,88.8 176.6,91.3 176.8,93.8 177.0,96.4 177.2,99.0 177.3,101.6 177.5,104.3 177.7,106.9 177.9,109.6 178.1,112.3 178.3,115.0 178.5,117.7 178.7,120.4 178.9,123.1 179.1,125.9 179.3,128.6 179.5,131.4 179.8,134.2 180.0,137.0 180.2,139.8 180.4,142.6 180.6,145.4 180.9,148.2 181.1,151.1 181.3,153.9 181.6,156.7 181.8,159.6 182.0,162.4 182.3,165.3 182.5,168.2 182.7,171.0 183.0,173.9 183.2,176.8 183.5,179.6 183.7,182.5 184.0,185.4 184.2,188.3 184.5,191.1 184.8,194.0 185.0,196.9 185.3,199.8 185.5,202.7 185.8,205.5 186.1,208.4 186.3,211.3 186.6,214.1 186.9,217.0 187.2,219.9 187.4,222.7 187.7,225.6 188.0,228.5 188.3,231.3 188.6,234.2 188.9,237.0 189.2,239.9 189.4,242.7 189.7,245.5 190.0,248.4 190.3,251.2 190.6,254.0 190.9,256.8 191.2,259.6 191.5,262.4 191.8,265.2 192.1,268.0 192.5,270.8 192.8,273.6 193.1,276.3 193.4,279.1 193.7,281.8 194.0,284.6 194.4,287.3 194.7,290.1 195.0,292.8 195.3,295.5 195.6,298.2 196.0,300.9 196.3,303.6 196.6,306.3 197.0,309.0 197.3,311.6 197.6,314.3 198.0,317.0 198.3,319.6 198.7,322.2 199.0,324.9 199.4,327.5 199.7,330.1 200.1,332.7 200.4,335.3 200.8,337.8 201.1,340.4 201.5,343.0 201.8,345.5 202.2,348.1 202.5,350.6 202.9,353.1 203.3,355.6 203.6,358.1 204.0,360.6 204.4,363.1 204.7,365.6 205.1,368.1 205.5,370.5 205.8,373.0 206.2,375.4 206.6,377.8 207.0,380.2 207.4,382.6 207.7,385.0 208.1,387.4 208.5,389.8 208.9,392.2 209.3,394.5 209.7,396.9 210.1,399.2 210.5,401.5 210.9,403.8 211.2,406.1 211.6,408.4 212.0,410.7 212.4,413.0 212.8,415.2 213.2,417.5 213.7,419.7 214.1,421.9 214.5,424.2 214.9,426.4 215.3,428.6 215.7,430.8 216.1,432.9 216.5,435.1 216.9,437.2 217.4,439.4 217.8,441.5 218.2,443.6 218.6,445.8 219.0,447.9 219.5,450.0 219.9,452.0 220.3,454.1 220.8,456.2 221.2,458.2 221.6,460.3 222.1,462.3 222.5,464.3 222.9,466.3 223.4,468.3 223.8,470.3 224.2,472.3 224.7,474.2 225.1,476.2 225.6,478.1 226.0,480.1 226.5,482.0 226.9,483.9 227.4,485.8 227.8,487.7 228.3,489.6 228.7,491.5 229.2,493.3 229.6,495.2 230.1,497.0 230.6,498.9 231.0,500.7 231.5,502.5 231.9,504.3 232.4,506.1 232.9,507.9 233.3,509.6 233.8,511.4 234.3,513.1 234.8,514.9 235.2,516.6 235.7,518.3 236.2,520.0 236.7,521.7 237.1,523.4 237.6,525.1 238.1,526.8 238.6,528.4 239.1,530.1 239.6,531.7 240.0,533.4 240.5,535.0 241.0,536.6 241.5,538.2 242.0,539.8 242.5,541.4 243.0,543.0 243.5,544.5 244.0,546.1 244.5,547.6 245.0,549.1 245.5,550.7 246.0,552.2 246.5,553.7 247.0,555.2 247.5,556.7 248.0,558.2 248.5,559.6 249.0,561.1 249.5,562.5 250.1,564.0 250.6,565.4 251.1,566.8 251.6,568.2 252.1,569.7 252.6,571.0 253.2,572.4 253.7,573.8 254.2,575.2 254.7,576.5 255.2,577.9 255.8,579.2 256.3,580.6 256.8,581.9 257.4,583.2 257.9,584.5 258.4,585.8 259.0,587.1 259.5,588.4 260.0,589.6 260.6,590.9 261.1,592.2 261.6,593.4 262.2,594.6 262.7,595.9 263.3,597.1 263.8,598.3 264.4,599.5 264.9,600.7 265.5,601.9 266.0,603.1 266.6,604.2 267.1,605.4 267.7,606.6 268.2,607.7 268.8,608.8 269.3,610.0 269.9,611.1 270.5,612.2 271.0,613.3 271.6,614.4 272.1,615.5 272.7,616.6 273.3,617.6 273.8,618.7 274.4,619.8 275.0,620.8 275.5,621.9 276.1,622.9 276.7,623.9 277.3,624.9 277.8,626.0 278.4,627.0 279.0,628.0 279.6,628.9 280.1,629.9 280.7,630.9 281.3,631.9 281.9,632.8 282.5,633.8 283.1,634.7 283.6,635.7 284.2,636.6 284.8,637.5 285.4,638.4 286.0,639.4 286.6,640.3 287.2,641.2 287.8,642.0 288.4,642.9 289.0,643.8 289.6,644.7 290.2,645.5 290.8,646.4 291.4,647.2 292.0,648.1 292.6,648.9 293.2,649.7 293.8,650.6 294.4,651.4 295.0,652.2 295.6,653.0 296.2,653.8 296.8,654.6 297.5,655.4 298.1,656.1 298.7,656.9 299.3,657.7 299.9,658.4 300.5,659.2 301.2,659.9 301.8,660.7 302.4,661.4 303.0,662.1 303.6,662.8 304.3,663.6 304.9,664.3 305.5,665.0 306.1,665.7 306.8,666.4 307.4,667.0 308.0,667.7 308.7,668.4 309.3,669.1 309.9,669.7 310.6,670.4 311.2,671.0 311.9,671.7 312.5,672.3 313.1,673.0 313.8,673.6 314.4,674.2 315.1,674.8 315.7,675.5 316.4,676.1 317.0,676.7 317.6,677.3 318.3,677.9 318.9,678.4 319.6,679.0 320.3,679.6 320.9,680.2 321.6,680.7 322.2,681.3 322.9,681.9 323.5,682.4 324.2,683.0 324.8,683.5 325.5,684.0 326.2,684.6 326.8,685.1 327.5,685.6 328.2,686.1 328.8,686.7 329.5,687.2 330.2,687.7 330.8,688.2 331.5,688.7 332.2,689.2 332.9,689.6 333.5,690.1 334.2,690.6 334.9,691.1 335.6,691.5 336.2,692.0 336.9,692.5 337.6,692.9 338.3,693.4 339.0,693.8 339.6,694.3 340.3,694.7 341.0,695.1 341.7,695.6 342.4,696.0 343.1,696.4 343.8,696.8 344.5,697.2 345.1,697.7 345.8,698.1 346.5,698.5 347.2,698.9 347.9,699.3 348.6,699.6 349.3,700.0 350.0,700.4 350.7,700.8 351.4,701.2 352.1,701.5 352.8,701.9 353.5,702.3 354.2,702.6 354.9,703.0 355.6,703.4 356.3,703.7 357.1,704.1 357.8,704.4 358.5,704.7 359.2,705.1 359.9,705.4 360.6,705.7 361.3,706.1 362.1,706.4 362.8,706.7 363.5,707.0 364.2,707.3 364.9,707.7 365.6,708.0 366.4,708.3 367.1,708.6 367.8,708.9 368.5,709.2 369.3,709.5 370.0,709.8 370.7,710.0 371.5,710.3 372.2,710.6 372.9,710.9 373.6,711.2 374.4,711.4 375.1,711.7 375.9,712.0 376.6,712.2 377.3,712.5 378.1,712.8 378.8,713.0 379.5,713.3 380.3,713.5 381.0,713.8 381.8,714.0 382.5,714.3 383.3,714.5 384.0,714.7 384.8,715.0 385.5,715.2 386.3,715.4 387.0,715.7 387.8,715.9 388.5,716.1 389.3,716.3 390.0,716.5 390.8,716.8 391.5,717.0 392.3,717.2 393.0,717.4 393.8,717.6 394.6,717.8 395.3,718.0 396.1,718.2 396.8,718.4 397.6,718.6 398.4,718.8 399.1,719.0 399.9,719.2 400.7,719.4 401.4,719.6 402.2,719.7 403.0,719.9 403.8,720.1 404.5,720.3 405.3,720.5 406.1,720.6 406.9,720.8 407.6,721.0 408.4,721.1 409.2,721.3 410.0,721.5 410.7,721.6 411.5,721.8 412.3,722.0 413.1,722.1 413.9,722.3 414.7,722.4 415.4,722.6 416.2,722.7 417.0,722.9 417.8,723.0 418.6,723.2 419.4,723.3 420.2,723.4 421.0,723.6 421.8,723.7 422.6,723.9 423.4,724.0 424.2,724.1 425.0,724.3 425.8,724.4 426.6,724.5 427.4,724.7 428.2,724.8 429.0,724.9 429.8,725.0 430.6,725.1 431.4,725.3 432.2,725.4 433.0,725.5 433.8,725.6 434.6,725.7 435.4,725.9 436.2,726.0 437.0,726.1 437.8,726.2 438.7,726.3 439.5,726.4 440.3,726.5 441.1,726.6 441.9,726.7 442.7,726.8 443.6,726.9 444.4,727.0 445.2,727.1 446.0,727.2 446.8,727.3 447.7,727.4 448.5,727.5 449.3,727.6 450.1,727.7 451.0,727.8 451.8,727.9 452.6,728.0 453.5,728.0 454.3,728.1 455.1,728.2 456.0,728.3 456.8,728.4 457.6,728.5 458.5,728.5 459.3,728.6 460.1,728.7 461.0,728.8 461.8,728.9 462.6,728.9 463.5,729.0 464.3,729.1 465.2,729.2 466.0,729.2 466.9,729.3 467.7,729.4 468.6,729.4 469.4,729.5 470.2,729.6 471.1,729.7 471.9,729.7 472.8,729.8 473.7,729.9 474.5,729.9 475.4,730.0 476.2,730.0 477.1,730.1 477.9,730.2 478.8,730.2 479.6,730.3 480.5,730.3 481.4,730.4 482.2,730.5 483.1,730.5 483.9,730.6 484.8,730.6 485.7,730.7 486.5,730.7 487.4,730.8 488.3,730.8 489.1,730.9 490.0,730.9 490.9,731.0 491.8,731.0 492.6,731.1 493.5,731.1 494.4,731.2 495.2,731.2 496.1,731.3 497.0,731.3 497.9,731.4 498.8,731.4 499.6,731.5 500.5,731.5 501.4,731.6 502.3,731.6 503.2,731.6 504.0,731.7 504.9,731.7 505.8,731.8 506.7,731.8 507.6,731.8 508.5,731.9 509.4,731.9 510.2,732.0 511.1,732.0 512.0,732.0 512.9,732.1 513.8,732.1 514.7,732.1 515.6,732.2 516.5,732.2 517.4,732.2 518.3,732.3 519.2,732.3 520.1,732.3 521.0,732.4 521.9,732.4 522.8,732.4 523.7,732.5 524.6,732.5 525.5,732.5 526.4,732.6 527.3,732.6 528.2,732.6 529.1,732.6 530.0,732.7 530.9,732.7 531.9,732.7 532.8,732.8 533.7,732.8 534.6,732.8 535.5,732.8 536.4,732.9 537.3,732.9 538.2,732.9 539.2,732.9 540.1,733.0 541.0,733.0 541.9,733.0 542.8,733.0 543.8,733.1 544.7,733.1 545.6,733.1 546.5,733.1 547.5,733.1 548.4,733.2 549.3,733.2 550.2,733.2 551.2,733.2 552.1,733.2 553.0,733.3 554.0,733.3 554.9,733.3 555.8,733.3 556.8,733.3 557.7,733.4 558.6,733.4 559.6,733.4 560.5,733.4 561.4,733.4 562.4,733.5 563.3,733.5 564.3,733.5 565.2,733.5 566.1,733.5 567.1,733.5 568.0,733.6 569.0,733.6 569.9,733.6 570.9,733.6 571.8,733.6 572.8,733.6 573.7,733.6 574.7,733.7 575.6,733.7 576.6,733.7 577.5,733.7 578.5,733.7 579.4,733.7 580.4,733.7 581.3,733.8 582.3,733.8 583.2,733.8 584.2,733.8 585.2,733.8 586.1,733.8 587.1,733.8 588.0,733.8 589.0,733.9 590.0,733.9 590.9,733.9 591.9,733.9 592.9,733.9 593.8,733.9 594.8,733.9 595.8,733.9 596.7,733.9 597.7,733.9 598.7,734.0 599.6,734.0 600.6,734.0 601.6,734.0 602.6,734.0 603.5,734.0 604.5,734.0 605.5,734.0 606.5,734.0 607.4,734.0 608.4,734.1 609.4,734.1 610.4,734.1 611.4,734.1 612.3,734.1 613.3,734.1 614.3,734.1 615.3,734.1 616.3,734.1 617.3,734.1 618.2,734.1 619.2,734.1 620.2,734.1 621.2,734.2 622.2,734.2 623.2,734.2 624.2,734.2 625.2,734.2 626.2,734.2 627.2,734.2 628.2,734.2 629.2,734.2 630.2,734.2 631.2,734.2 632.1,734.2 633.1,734.2 634.1,734.2 635.1,734.2 636.2,734.3 637.2,734.3 638.2,734.3 639.2,734.3 640.2,734.3 641.2,734.3 642.2,734.3 643.2,734.3 644.2,734.3 645.2,734.3 646.2,734.3 647.2,734.3 648.2,734.3 649.2,734.3 650.3,734.3 651.3,734.3 652.3,734.3 653.3,734.3 654.3,734.3 655.3,734.3 656.4,734.3 657.4,734.4 658.4,734.4 659.4,734.4 660.4,734.4 661.5,734.4 662.5,734.4 663.5,734.4 664.5,734.4 665.5,734.4 666.6,734.4 667.6,734.4 668.6,734.4 669.7,734.4 670.7,734.4 671.7,734.4 672.7,734.4 673.8,734.4 674.8,734.4 675.8,734.4 676.9,734.4 677.9,734.4 678.9,734.4 680.0,734.4 681.0,734.4 682.1,734.4 683.1,734.4 684.1,734.4 685.2,734.4 686.2,734.4 687.3,734.4 688.3,734.5 689.3,734.5 690.4,734.5 691.4,734.5 692.5,734.5 693.5,734.5 694.6,734.5 695.6,734.5 696.7,734.5 697.7,734.5 698.8,734.5 699.8,734.5 700.9,734.5 701.9,734.5 703.0,734.5 704.0,734.5 705.1,734.5 706.1,734.5 707.2,734.5 708.3,734.5 709.3,734.5 710.4,734.5 711.4,734.5 712.5,734.5 713.6,734.5 714.6,734.5 715.7,734.5 716.7,734.5 717.8,734.5 718.9,734.5 719.9,734.5 721.0,734.5 722.1,734.5 723.1,734.5 724.2,734.5 725.3,734.5 726.3,734.5 727.4,734.5 728.5,734.5 729.6,734.5 730.6,734.5 731.7,734.5 732.8,734.5 733.9,734.5 734.9,734.5 736.0,734.5 737.1,734.5 738.2,734.5 739.3,734.5 740.3,734.5 741.4,734.5 742.5,734.5 743.6,734.5 744.7,734.5 745.8,734.5 746.8,734.5 747.9,734.5 749.0,734.5 750.1,734.5 751.2,734.6 752.3,734.6 753.4,734.6 754.5,734.6 755.5,734.6 756.6,734.6 757.7,734.6 758.8,734.6 759.9,734.6 761.0,734.6 762.1,734.6 763.2,734.6 764.3,734.6 765.4,734.6 766.5,734.6 767.6,734.6 768.7,734.6 769.8,734.6 770.9,734.6 772.0,734.6 773.1,734.6 774.2,734.6 775.3,734.6 776.4,734.6 777.5,734.6 778.6,734.6 779.8,734.6 780.9,734.6 782.0,734.6 783.1,734.6 784.2,734.6 785.3,734.6 786.4,734.6 787.5,734.6 788.6,734.6 789.8,734.6 790.9,734.6 792.0,734.6 793.1,734.6 794.2,734.6 795.3,734.6 796.5,734.6 797.6,734.6 798.7,734.6 799.8,734.6 801.0,734.6 802.1,734.6 803.2,734.6 804.3,734.6 805.5,734.6"/>
<polyline stroke="#2f4f4f" stroke-dasharray="60.8 8.25 2.3 8.25" points="172.1,20.4 172.1,20.7 172.1,21.4 172.2,22.3 172.2,23.4 172.3,24.7 172.3,26.1 172.4,27.7 172.4,29.5 172.5,31.3 172.6,33.3 172.7,35.4 172.7,37.6 172.8,39.9 172.9,42.3 173.0,44.8 173.1,47.4 173.2,50.0 173.3,52.7 173.4,55.5 173.5,58.4 173.7,61.3 173.8,64.3 173.9,67.4 174.0,70.5 174.1,73.6 174.3,76.8 174.4,80.1 174.6,83.4 174.7,86.7 174.8,90.1 175.0,93.5 175.1,96.9 175.3,100.4 175.5,103.9 175.6,107.4 175.8,110.9 175.9,114.5 176.1,118.1 176.3,121.7 176.4,125.3 176.6,129.0 176.8,132.6 177.0,136.3 177.2,140.0 177.3,143.7 177.5,147.4 177.7,151.1 177.9,154.8 178.1,158.5 178.3,162.3 178.5,166.0 178.7,169.7 178.9,173.4 179.1,177.2 179.3,180.9 179.5,184.6 179.8,188.3 180.0,192.0 180.2,195.7 180.4,199.4 180.6,203.1 180.9,206.8 181.1,210.5 181.3,214.1 181.6,217.8 181.8,221.4 182.0,225.0 182.3,228.7 182.5,232.3 182.7,235.9 183.0,239.4 183.2,243.0 183.5,246.6 183.7,250.1 184.0,253.6 184.2,257.1 184.5,260.6 184.8,264.1 185.0,267.6 185.3,271.0 185.5,274.4 185.8,277.8 186.1,281.2 186.3,284.6 186.6,288.0 186.9,291.3 187.2,294.6 187.4,297.9 187.7,301.2 188.0,304.5 188.3,307.7 188.6,310.9 188.9,314.1 189.2,317.3 189.4,320.5 189.7,323.6 190.0,326.8 190.3,329.9 190.6,333.0 190.9,336.0 191.2,339.1 191.5,342.1 191.8,345.1 192.1,348.1 192.5,351.1 192.8,354.1 193.1,357.0 193.4,359.9 193.7,362.8 194.0,365.7 194.4,368.5 194.7,371.4 195.0,374.2 195.3,377.0 195.6,379.8 196.0,382.5 196.3,385.3 196.6,388.0 197.0,390.7 197.3,393.4 197.6,396.1 198.0,398.7 198.3,401.3 198.7,404.0 199.0,406.5 199.4,409.1 199.7,411.7 200.1,414.2 200.4,416.7 200.8,419.2 201.1,421.7 201.5,424.2 201.8,426.6 202.2,429.1 202.5,431.5 202.9,433.9 203.3,436.2 203.6,438.6 204.0,441.0 204.4,443.3 204.7,445.6 205.1,447.9 205.5,450.2 205.8,452.4 206.2,454.7 206.6,456.9 207.0,459.1 207.4,461.3 207.7,463.5 208.1,465.6 208.5,467.8 208.9,469.9 209.3,472.0 209.7,474.1 210.1,476.2 210.5,478.3 210.9,480.3 211.2,482.4 211.6,484.4 212.0,486.4 212.4,488.4 212.8,490.4 213.2,492.3 213.7,494.3 214.1,496.2 214.5,498.2 214.9,500.1 215.3,502.0 215.7,503.8 216.1,505.7 216.5,507.6 216.9,509.4 217.4,511.2 217.8,513.0 218.2,514.8 218.6,516.6 219.0,518.4 219.5,520.2 219.9,521.9 220.3,523.6 220.8,525.4 221.2,527.1 221.6,528.8 222.1,530.5 222.5,532.1 222.9,533.8 223.4,535.4 223.8,537.1 224.2,538.7 224.7,540.3 225.1,541.9 225.6,543.5 226.0,545.1 226.5,546.6 226.9,548.2 227.4,549.7 227.8,551.3 228.3,552.8 228.7,554.3 229.2,555.8 229.6,557.3 230.1,558.8 230.6,560.2 231.0,561.7 231.5,563.1 231.9,564.6 232.4,566.0 232.9,567.4 233.3,568.8 233.8,570.2 234.3,571.6 234.8,572.9 235.2,574.3 235.7,575.6 236.2,577.0 236.7,578.3 237.1,579.6 237.6,581.0 238.1,582.3 238.6,583.6 239.1,584.8 239.6,586.1 240.0,587.4 240.5,588.6 241.0,589.9 241.5,591.1 242.0,592.3 242.5,593.6 243.0,594.8 243.5,596.0 244.0,597.2 244.5,598.4 245.0,599.5 245.5,600.7 246.0,601.8 246.5,603.0 247.0,604.1 247.5,605.3 248.0,606.4 248.5,607.5 249.0,608.6 249.5,609.7 250.1,610.8 250.6,611.9 251.1,613.0 251.6,614.0 252.1,615.1 252.6,616.1 253.2,617.2 253.7,618.2 254.2,619.2 254.7,620.3 255.2,621.3 255.8,622.3 256.3,623.3 256.8,624.3 257.4,625.3 257.9,626.2 258.4,627.2 259.0,628.2 259.5,629.1 260.0,630.1 260.6,631.0 261.1,631.9 261.6,632.8 262.2,633.8 262.7,634.7 263.3,635.6 263.8,636.5 264.4,637.4 264.9,638.2 265.5,639.1 266.0,640.0 266.6,640.9 267.1,641.7 267.7,642.6 268.2,643.4 268.8,644.2 269.3,645.1 269.9,645.9 270.5,646.7 271.0,647.5 271.6,648.3 272.1,649.1 272.7,649.9 273.3,650.7 273.8,651.5 274.4,652.3 275.0,653.0 275.5,653.8 276.1,654.5 276.7,655.3 277.3,656.0 277.8,656.8 278.4,657.5 279.0,658.2 279.6,659.0 280.1,659.7 280.7,660.4 281.3,661.1 281.9,661.8 282.5,662.5 283.1,663.2 283.6,663.8 284.2,664.5 284.8,665.2 285.4,665.9 286.0,666.5 286.6,667.2 287.2,667.8 287.8,668.5 288.4,669.1 289.0,669.7 289.6,670.4 290.2,671.0 290.8,671.6 291.4,672.2 292.0,672.8 292.6,673.4 293.2,674.0 293.8,674.6 294.4,675.2 295.0,675.8 295.6,676.4 296.2,676.9 296.8,677.5 297.5,678.1 298.1,678.6 298.7,679.2 299.3,679.7 299.9,680.3 300.5,680.8 301.2,681.4 301.8,681.9 302.4,682.4 303.0,682.9 303.6,683.5 304.3,684.0 304.9,684.5 305.5,685.0 306.1,685.5 306.8,686.0 307.4,686.5 308.0,687.0 308.7,687.4 309.3,687.9 309.9,688.4 310.6,688.9 311.2,689.3 311.9,689.8 312.5,690.3 313.1,690.7 313.8,691.2 314.4,691.6 315.1,692.1 315.7,692.5 316.4,692.9 317.0,693.4 317.6,693.8 318.3,694.2 318.9,694.6 319.6,695.0 320.3,695.5 320.9,695.9 321.6,696.3 322.2,696.7 322.9,697.1 323.5,697.5 324.2,697.9 324.8,698.2 325.5,698.6 326.2,699.0 326.8,699.4 327.5,699.8 328.2,700.1 328.8,700.5 329.5,700.9 330.2,701.2 330.8,701.6 331.5,701.9 332.2,702.3 332.9,702.6 333.5,703.0 334.2,703.3 334.9,703.6 335.6,704.0 336.2,704.3 336.9,704.6 337.6,705.0 338.3,705.3 339.0,705.6 339.6,705.9 340.3,706.2 341.0,706.5 341.7,706.8 342.4,707.2 343.1,707.5 343.8,707.8 344.5,708.0 345.1,708.3 345.8,708.6 346.5,708.9 347.2,709.2 347.9,709.5 348.6,709.8 349.3,710.0 350.0,710.3 350.7,710.6 351.4,710.8 352.1,711.1 352.8,711.4 353.5,711.6 354.2,711.9 354.9,712.1 355.6,712.4 356.3,712.6 357.1,712.9 357.8,713.1 358.5,713.4 359.2,713.6 359.9,713.9 360.6,714.1 361.3,714.3 362.1,714.6 362.8,714.8 363.5,715.0 364.2,715.2 364.9,715.5 365.6,715.7 366.4,715.9 367.1,716.1 367.8,716.3 368.5,716.5 369.3,716.7 370.0,717.0 370.7,717.2 371.5,717.4 372.2,717.6 372.9,717.8 373.6,718.0 374.4,718.1 375.1,718.3 375.9,718.5 376.6,718.7 377.3,718.9 378.1,719.1 378.8,719.3 379.5,719.4 380.3,719.6 381.0,719.8 381.8,720.0 382.5,720.2 383.3,720.3 384.0,720.5 384.8,720.7 385.5,720.8 386.3,721.0 387.0,721.1 387.8,721.3 388.5,721.5 389.3,721.6 390.0,721.8 390.8,721.9 391.5,722.1 392.3,722.2 393.0,722.4 393.8,722.5 394.6,722.7 395.3,722.8 396.1,723.0 396.8,723.1 397.6,723.2 398.4,723.4 399.1,723.5 399.9,723.7 400.7,723.8 401.4,723.9 402.2,724.0 403.0,724.2 403.8,724.3 404.5,724.4 405.3,724.6 406.1,724.7 406.9,724.8 407.6,724.9 408.4,725.0 409.2,725.2 410.0,725.3 410.7,725.4 411.5,725.5 412.3,725.6 413.1,725.7 413.9,725.8 414.7,726.0 415.4,726.1 416.2,726.2 417.0,726.3 417.8,726.4 418.6,726.5 419.4,726.6 420.2,726.7 421.0,726.8 421.8,726.9 422.6,727.0 423.4,727.1 424.2,727.2 425.0,727.3 425.8,727.4 426.6,727.4 427.4,727.5 428.2,727.6 429.0,727.7 429.8,727.8 430.6,727.9 431.4,728.0 432.2,728.1 433.0,728.1 433.8,728.2 434.6,728.3 435.4,728.4 436.2,728.5 437.0,728.5 437.8,728.6 438.7,728.7 439.5,728.8 440.3,728.9 441.1,728.9 441.9,729.0 442.7,729.1 443.6,729.1 444.4,729.2 445.2,729.3 446.0,729.4 446.8,729.4 447.7,729.5 448.5,729.6 449.3,729.6 450.1,729.7 451.0,729.8 451.8,729.8 452.6,729.9 453.5,729.9 454.3,730.0 455.1,730.1 456.0,730.1 456.8,730.2 457.6,730.2 458.5,730.3 459.3,730.4 460.1,730.4 461.0,730.5 461.8,730.5 462.6,730.6 463.5,730.6 464.3,730.7 465.2,730.7 466.0,730.8 466.9,730.8 467.7,730.9 468.6,730.9 469.4,731.0 470.2,731.0 471.1,731.1 471.9,731.1 472.8,731.2 473.7,731.2 474.5,731.3 475.4,731.3 476.2,731.4 477.1,731.4 477.9,731.5 478.8,731.5 479.6,731.5 480.5,731.6 481.4,731.6 482.2,731.7 483.1,731.7 483.9,731.7 484.8,731.8 485.7,731.8 486.5,731.9 487.4,731.9 488.3,731.9 489.1,732.0 490.0,732.0 490.9,732.0 491.8,732.1 492.6,732.1 493.5,732.1 494.4,732.2 495.2,732.2 496.1,732.2 497.0,732.3 497.9,732.3 498.8,732.3 499.6,732.4 500.5,732.4 501.4,732.4 502.3,732.5 503.2,732.5 504.0,732.5 504.9,732.6 505.8,732.6 506.7,732.6 507.6,732.6 508.5,732.7 509.4,732.7 510.2,732.7 511.1,732.7 512.0,732.8 512.9,732.8 513.8,732.8 514.7,732.9 515.6,732.9 516.5,732.9 517.4,732.9 518.3,732.9 519.2,733.0 520.1,733.0 521.0,733.0 521.9,733.0 522.8,733.1 523.7,733.1 524.6,733.1 525.5,733.1 526.4,733.2 527.3,733.2 528.2,733.2 529.1,733.2 530.0,733.2 530.9,733.3 531.9,733.3 532.8,733.3 533.7,733.3 534.6,733.3 535.5,733.3 536.4,733.4 537.3,733.4 538.2,733.4 539.2,733.4 540.1,733.4 541.0,733.5 541.9,733.5 542.8,733.5 543.8,733.5 544.7,733.5 545.6,733.5 546.5,733.6 547.5,733.6 548.4,733.6 549.3,733.6 550.2,733.6 551.2,733.6 552.1,733.6 553.0,733.7 554.0,733.7 554.9,733.7 555.8,733.7 556.8,733.7 557.7,733.7 558.6,733.7 559.6,733.7 560.5,733.8 561.4,733.8 562.4,733.8 563.3,733.8 564.3,733.8 565.2,733.8 566.1,733.8 567.1,733.8 568.0,733.9 569.0,733.9 569.9,733.9 570.9,733.9 571.8,733.9 572.8,733.9 573.7,733.9 574.7,733.9 575.6,733.9 576.6,734.0 577.5,734.0 578.5,734.0 579.4,734.0 580.4,734.0 581.3,734.0 582.3,734.0 583.2,734.0 584.2,734.0 585.2,734.0 586.1,734.0 587.1,734.1 588.0,734.1 589.0,734.1 590.0,734.1 590.9,734.1 591.9,734.1 592.9,734.1 593.8,734.1 594.8,734.1 595.8,734.1 596.7,734.1 597.7,734.1 598.7,734.1 599.6,734.2 600.6,734.2 601.6,734.2 602.6,734.2 603.5,734.2 604.5,734.2 605.5,734.2 606.5,734.2 607.4,734.2 608.4,734.2 609.4,734.2 610.4,734.2 611.4,734.2 612.3,734.2 613.3,734.2 614.3,734.2 615.3,734.3 616.3,734.3 617.3,734.3 618.2,734.3 619.2,734.3 620.2,734.3 621.2,734.3 622.2,734.3 623.2,734.3 624.2,734.3 625.2,734.3 626.2,734.3 627.2,734.3 628.2,734.3 629.2,734.3 630.2,734.3 631.2,734.3 632.1,734.3 633.1,734.3 634.1,734.3 635.1,734.4 636.2,734.4 637.2,734.4 638.2,734.4 639.2,734.4 640.2,734.4 641.2,734.4 642.2,734.4 643.2,734.4 644.2,734.4 645.2,734.4 646.2,734.4 647.2,734.4 648.2,734.4 649.2,734.4 650.3,734.4 651.3,734.4 652.3,734.4 653.3,734.4 654.3,734.4 655.3,734.4 656.4,734.4 657.4,734.4 658.4,734.4 659.4,734.4 660.4,734.4 661.5,734.4 662.5,734.4 663.5,734.4 664.5,734.4 665.5,734.4 666.6,734.5 667.6,734.5 668.6,734.5 669.7,734.5 670.7,734.5 671.7,734.5 672.7,734.5 673.8,734.5 674.8,734.5 675.8,734.5 676.9,734.5 677.9,734.5 678.9,734.5 680.0,734.5 681.0,734.5 682.1,734.5 683.1,734.5 684.1,734.5 685.2,734.5 686.2,734.5 687.3,734.5 688.3,734.5 689.3,734.5 690.4,734.5 691.4,734.5 692.5,734.5 693.5,734.5 694.6,734.5 695.6,734.5 696.7,734.5 697.7,734.5 698.8,734.5 699.8,734.5 700.9,734.5 701.9,734.5 703.0,734.5 704.0,734.5 705.1,734.5 706.1,734.5 707.2,734.5 708.3,734.5 709.3,734.5 710.4,734.5 711.4,734.5 712.5,734.5 713.6,734.5 714.6,734.5 715.7,734.5 716.7,734.5 717.8,734.5 718.9,734.5 719.9,734.5 721.0,734.5 722.1,734.5 723.1,734.5 724.2,734.5 725.3,734.5 726.3,734.5 727.4,734.5 728.5,734.5 729.6,734.6 730.6,734.6 731.7,734.6 732.8,734.6 733.9,734.6 734.9,734.6 736.0,734.6 737.1,734.6 738.2,734.6 739.3,734.6 740.3,734.6 741.4,734.6 742.5,734.6 743.6,734.6 744.7,734.6 745.8,734.6 746.8,734.6 747.9,734.6 749.0,734.6 750.1,734.6 751.2,734.6 752.3,734.6 753.4,734.6 754.5,734.6 755.5,734.6 756.6,734.6 757.7,734.6 758.8,734.6 759.9,734.6 761.0,734.6 762.1,734.6 763.2,734.6 764.3,734.6 765.4,734.6 766.5,734.6 767.6,734.6 768.7,734.6 769.8,734.6 770.9,734.6 772.0,734.6 773.1,734.6 774.2,734.6 775.3,734.6 776.4,734.6 777.5,734.6 778.6,734.6 779.8,734.6 780.9,734.6 782.0,734.6 783.1,734.6 784.2,734.6 785.3,734.6 786.4,734.6 787.5,734.6 788.6,734.6 789.8,734.6 790.9,734.6 792.0,734.6 793.1,734.6 794.2,734.6 795.3,734.6 796.5,734.6 797.6,734.6 798.7,734.6 799.8,734.6 801.0,734.6 802.1,734.6 803.2,734.6 804.3,734.6 805.5,734.6"/>
</g>
<g fill="none" stroke-width="2.20">
<line x1="263.10" y1="89.40" x2="314.10" y2="89.40" stroke="#000000"/>
<line x1="263.10" y1="127.20" x2="314.10" y2="127.20" stroke="#ee2c2c" stroke-dasharray="60.25 20.65"/>
<line x1="263.10" y1="165.00" x2="314.10" y2="165.00" stroke="#2e8b57" stroke-dasharray="19.75 10.34"/>
<line x1="263.10" y1="202.80" x2="314.10" y2="202.80" stroke="#0000ff" stroke-dasharray="2.3 8.165"/>
<line x1="263.10" y1="240.60" x2="314.10" y2="240.60" stroke="#2f4f4f" stroke-dasharray="60.8 8.25 2.3 8.25"/>
</g>
<g font-family="'Liberation Serif', serif" font-size="34.00">
<text transform="translate(333.45,95.89) scale(0.9160,0.9893)" fill="#000000" font-size="34.00">v</text>
<text x="349.45" y="100.85" fill="#000000" font-size="21.95">dust,lin</text>
<text transform="translate(333.45,133.79) scale(0.9160,0.9893)" fill="#ee2c2c" font-size="34.00">v</text>
<text x="349.45" y="138.75" fill="#ee2c2c" font-size="21.95">dust,quad</text>
<text transform="translate(333.45,171.69) scale(0.9160,0.9893)" fill="#2e8b57" font-size="34.00">v</text>
<text x="349.45" y="176.65" fill="#2e8b57" font-size="21.95">dust,power</text>
<text transform="translate(333.45,209.59) scale(0.9160,0.9893)" fill="#0000ff" font-size="34.00">v</text>
<text x="349.45" y="214.55" fill="#0000ff" font-size="21.95">dust,third</text>
<text transform="translate(333.45,247.49) scale(0.9160,0.9893)" fill="#2f4f4f" font-size="34.00">v</text>
<text x="349.45" y="252.45" fill="#2f4f4f" font-size="21.95">dust,mixed</text>
<text transform="translate(138.77,26.95) scale(0.8040,1.0242)" fill="#000" font-size="34.00">1</text>
<text transform="translate(111.34,387.68) scale(1.0660,1.0222)" fill="#000" font-size="34.00">0</text><text transform="translate(130.36,387.48) scale(0.9407,0.9407)" fill="#000" font-size="34.00">.</text><text transform="translate(136.50,387.67) scale(1.0074,1.0556)" fill="#000" font-size="34.00">5</text>
<text transform="translate(136.24,748.43) scale(1.0660,1.0222)" fill="#000" font-size="34.00">0</text>
<text transform="translate(162.14,772.78) scale(1.0660,1.0222)" fill="#000" font-size="34.00">0</text>
<text transform="translate(458.16,772.48) scale(1.0660,1.0222)" fill="#000" font-size="34.00">0</text><text transform="translate(477.18,772.28) scale(0.9407,0.9407)" fill="#000" font-size="34.00">.</text><text transform="translate(483.66,772.48) scale(1.0660,1.0222)" fill="#000" font-size="34.00">0</text><text transform="translate(500.33,772.47) scale(1.0074,1.0556)" fill="#000" font-size="34.00">5</text>
<text transform="translate(783.34,772.48) scale(1.0660,1.0222)" fill="#000" font-size="34.00">0</text><text transform="translate(802.36,772.28) scale(0.9407,0.9407)" fill="#000" font-size="34.00">.</text><text transform="translate(810.77,772.35) scale(0.8040,1.0242)" fill="#000" font-size="34.00">1</text>
<text transform="translate(483.85,805.09) scale(1.0153,1.0279)" fill="#000" font-size="34.00">t</text>
<g transform="translate(58.4,395.3) rotate(-90)">
<text transform="translate(0.65,0.14) scale(0.9160,0.9893)" fill="#000" font-size="34.00">v</text>
<text transform="translate(16.78,5.00) scale(1.0265,0.9844)" fill="#000" font-size="21.95">d</text>
</g>
</g>
</svg>
</body></html>
